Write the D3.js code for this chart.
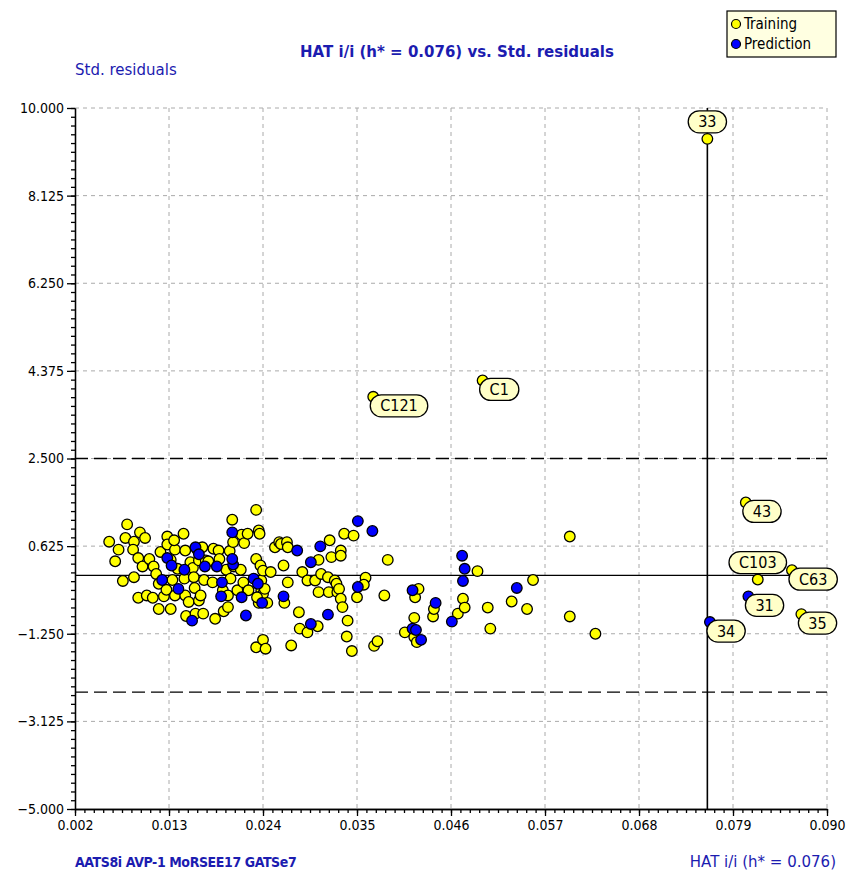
<!DOCTYPE html>
<html><head><meta charset="utf-8">
<script src="https://cdn.jsdelivr.net/npm/d3@7"></script>
<style>
body{margin:0;background:#fff;}
svg{display:block;font-family:"DejaVu Sans Condensed","DejaVu Sans",sans-serif;}
</style></head><body>
<svg id="chart" width="848" height="876"></svg>
<script>
// ---------------- DATA ----------------
const trainH = [0.0060,0.0071,0.0067,0.0081,0.0079,0.0089,0.0088,0.0096,0.0102,0.0094,0.0099,0.0107,0.0076,0.0089,0.0094,0.0104,0.0112,0.0111,0.0118,0.0115,
0.0118,0.0120,0.0124,0.0127,0.0128,0.0128,0.0132,0.0134,0.0132,0.0137,0.0136,0.0137,0.0140,0.0147,0.0149,0.0148,0.0149,0.0150,0.0153,0.0155,
0.0158,0.0159,0.0160,0.0161,0.0163,0.0165,0.0165,0.0167,0.0170,0.0169,0.0171,0.0173,0.0176,0.0181,0.0182,0.0184,0.0188,0.0189,0.0193,0.0194,
0.0197,0.0199,0.0201,0.0199,0.0202,0.0204,0.0205,0.0206,0.0210,0.0214,0.0215,0.0217,0.0218,0.0222,0.0223,0.0232,0.0232,0.0235,0.0236,0.0237,
0.0238,0.0238,0.0240,0.0240,0.0242,0.0245,0.0249,0.0235,0.0233,0.0232,0.0240,0.0243,0.0254,0.0259,0.0261,0.0264,0.0265,0.0268,0.0269,0.0269,
0.0273,0.0282,0.0283,0.0286,0.0292,0.0292,0.0301,0.0304,0.0305,0.0305,0.0308,0.0316,0.0317,0.0318,0.0320,0.0324,0.0326,0.0327,0.0329,0.0331,
0.0331,0.0331,0.0333,0.0335,0.0338,0.0339,0.0344,0.0346,0.0350,
0.0360,0.0358,0.0382,0.0386,0.0417,0.0418,0.0422,0.0406,0.0417,0.0420,0.0439,0.0440,0.0468,0.0474,0.0476,0.0491,0.0503,0.0506,0.0531,0.0549,
0.0556,0.0599,0.0599,0.0629,0.0370,0.0374];
const trainR = [0.72,0.55,0.30,1.09,0.80,0.72,0.55,0.92,0.80,0.37,0.19,0.35,-0.12,-0.04,-0.48,-0.43,0.19,-0.48,-0.72,0.03,
-0.18,0.50,-0.45,-0.31,0.83,0.66,-0.72,-0.10,0.33,0.55,0.75,-0.43,0.14,0.89,0.53,-0.07,-0.43,-0.87,-0.57,0.28,
0.16,-0.04,-0.27,-0.82,0.55,0.32,-0.54,-0.43,-0.82,0.60,-0.10,0.32,0.30,-0.15,0.57,-0.93,0.53,0.35,-0.32,-0.77,
0.12,-0.43,0.52,-0.68,-0.07,1.19,0.71,0.19,-0.32,0.12,0.87,-0.15,0.69,0.89,-0.32,1.40,0.35,0.96,0.89,0.21,
-0.11,-0.32,-0.40,0.10,-0.29,-0.59,0.07,-0.59,-0.47,-1.54,-1.38,-1.57,0.60,0.71,0.67,0.21,-0.59,0.71,0.60,-0.15,
-1.50,-0.79,-1.14,0.07,-1.22,-0.11,-0.11,-1.09,0.33,-0.36,0.03,-0.04,-0.36,0.75,0.39,-0.11,-0.18,-0.36,-0.29,-0.50,
0.53,0.42,-0.68,0.89,-1.31,-0.97,-1.62,0.85,-0.47,
-0.05,-0.20,-0.43,0.33,-0.91,-0.47,-0.29,-1.22,-1.32,-1.43,-0.88,-0.72,-0.82,-0.50,-0.69,0.09,-0.69,-1.14,-0.56,-0.72,
-0.10,0.83,-0.88,-1.25,-1.51,-1.41];
const predH = [0.0128,0.0122,0.0133,0.0141,0.0148,0.0157,0.0161,0.0165,0.0172,0.0186,0.0191,0.0192,0.0204,0.0205,0.0204,0.0215,0.0220,0.0229,0.0234,0.0239,
0.0264,0.0280,0.0296,0.0307,0.0296,0.0316,0.0351,0.0351,0.0368,0.0415,0.0415,0.0419,0.0425,0.0442,0.0461,0.0473,0.0476,0.0474,0.0537];
const predR = [0.37,-0.10,0.21,-0.29,0.12,-0.97,0.60,0.45,0.19,0.19,-0.45,-0.15,0.92,0.23,0.35,-0.47,-0.86,-0.07,-0.18,-0.59,
-0.45,0.53,0.28,0.62,-1.04,-0.84,1.16,-0.25,0.95,-0.32,-1.14,-1.17,-1.38,-0.59,-0.99,0.42,0.14,-0.12,-0.27];
const labelIds = ["33","C1","C121","43","C103","C63","31","35","34"];
const labelH = [0.0760,0.0497,0.0369,0.0805,0.0819,0.0859,0.0808,0.0870,0.0763];
const labelR = [9.34,4.17,3.82,1.56,-0.09,0.11,-0.45,-0.83,-1.00];
const labelSet = ["Training","Training","Training","Training","Training","Training","Prediction","Training","Prediction"];
const xTicks = [0.002,0.013,0.024,0.035,0.046,0.057,0.068,0.079,0.090];
const yTicks = [10,8.125,6.25,4.375,2.5,0.625,-1.25,-3.125,-5];
const hStar = 0.076;
const resLimit = 2.5;
const titleText = "HAT i/i (h* = 0.076) vs. Std. residuals";
const yAxisTitle = "Std. residuals";
const xAxisTitle = "HAT i/i (h* = 0.076)";
const descriptorText = "AATS8i AVP-1 MoRSEE17 GATSe7";
const seriesNames = ["Training","Prediction"];

// ---------------- STYLE / LAYOUT ----------------
const L = 75, R = 827, T = 108, B = 809;
const colors = {Training:"#ffff00", Prediction:"#0000ff"};
const textBlue = "#1c1cb0";
const dotR = 5.3;
const wideFont = "'DejaVu Sans',sans-serif";
const condFont = "'DejaVu Sans Condensed','DejaVu Sans',sans-serif";

const svg = d3.select("#chart");
const x = d3.scaleLinear().domain([0.002,0.090]).range([L,R]);
const y = d3.scaleLinear().domain([-5,10]).range([B,T]);

// grid
const grid = svg.append("g");
grid.selectAll("line.gx").data(xTicks.slice(1)).join("line")
  .attr("x1",d=>x(d)).attr("x2",d=>x(d)).attr("y1",T).attr("y2",B)
  .attr("stroke","#aaaaaa").attr("stroke-dasharray","4,4").attr("stroke-width",1);
grid.selectAll("line.gy").data(yTicks.slice(0,-1)).join("line")
  .attr("x1",L).attr("x2",R).attr("y1",d=>y(d)).attr("y2",d=>y(d))
  .attr("stroke","#aaaaaa").attr("stroke-dasharray","4,4").attr("stroke-width",1);

// axes
const fmt = d3.format(".3f");
const xMinor = d3.range(0,81).map(i=>0.002+i*0.0011);
const yMinor = d3.range(0,81).map(i=>-5+i*0.1875);
const gxm = svg.append("g").attr("transform",`translate(0,${B})`)
  .call(d3.axisBottom(x).tickValues(xMinor).tickSize(4).tickFormat("").tickSizeOuter(0));
const gx = svg.append("g").attr("transform",`translate(0,${B})`)
  .call(d3.axisBottom(x).tickValues(xTicks).tickSize(7).tickFormat(fmt).tickSizeOuter(0).tickPadding(4));
const gym = svg.append("g").attr("transform",`translate(${L},0)`)
  .call(d3.axisLeft(y).tickValues(yMinor).tickSize(4).tickFormat("").tickSizeOuter(0));
const gy = svg.append("g").attr("transform",`translate(${L},0)`)
  .call(d3.axisLeft(y).tickValues(yTicks).tickSize(8).tickFormat(fmt).tickSizeOuter(0).tickPadding(3));
[gx,gy,gxm,gym].forEach(g=>{
  g.selectAll("path,line").attr("stroke","#000").attr("stroke-width",1.3);
  g.selectAll("text").attr("fill","#000").style("font-size","14px").style("font-family",condFont);
});

// reference lines
svg.append("line").attr("x1",L).attr("x2",R).attr("y1",y(0)).attr("y2",y(0))
  .attr("stroke","#000").attr("stroke-width",1.3);
[resLimit,-resLimit].forEach(v=>{
  svg.append("line").attr("x1",L).attr("x2",R).attr("y1",y(v)).attr("y2",y(v))
    .attr("stroke","#000").attr("stroke-width",1.4).attr("stroke-dasharray","13,6");
});
svg.append("line").attr("x1",x(hStar)).attr("x2",x(hStar)).attr("y1",T).attr("y2",B)
  .attr("stroke","#000").attr("stroke-width",1.6);

// points
const trainData = trainH.map((h,i)=>({h, r:trainR[i], s:"Training"}));
const predData = predH.map((h,i)=>({h, r:predR[i], s:"Prediction"}));
const labData = labelIds.map((id,i)=>({id, h:labelH[i], r:labelR[i], s:labelSet[i]}));
svg.append("g").selectAll("circle").data(trainData.concat(predData).concat(labData)).join("circle")
  .attr("cx",d=>x(d.h)).attr("cy",d=>y(d.r)).attr("r",dotR)
  .attr("fill",d=>colors[d.s]).attr("stroke","#000").attr("stroke-width",1.3);

// point labels (pill call-outs)
const above = new Set(["33","C103"]);
const lg = svg.append("g");
labData.forEach(d=>{
  const px = x(d.h), py = y(d.r);
  const grp = lg.append("g");
  const rect = grp.append("rect");
  const t = grp.append("text").text(d.id).style("font-size","16px").style("font-family",condFont).attr("fill","#000");
  const tw = t.node().getComputedTextLength();
  const bw = tw + 20, bh = 22;
  let bx, by;
  if (above.has(d.id)) { bx = px - bw/2; by = py - 6 - bh; }
  else { bx = px - 3; by = py - 2; }
  rect.attr("x",bx).attr("y",by).attr("width",bw).attr("height",bh)
    .attr("rx",bh/2).attr("ry",bh/2).attr("fill","#ffffc8").attr("stroke","#000").attr("stroke-width",1.3);
  t.attr("x",bx+bw/2).attr("y",by+bh/2+5.5).attr("text-anchor","middle");
});

// titles
svg.append("text").attr("x",457).attr("y",57).attr("text-anchor","middle").attr("fill",textBlue)
  .style("font-family",wideFont).style("font-size","15px").style("font-weight","bold").text(titleText);
svg.append("text").attr("x",75).attr("y",75).attr("fill",textBlue)
  .style("font-family",wideFont).style("font-size","15px").text(yAxisTitle);
svg.append("text").attr("x",75).attr("y",867).attr("fill",textBlue).style("font-size","14px")
  .style("letter-spacing","-0.4px")
  .style("font-family",condFont).style("font-weight","bold").text(descriptorText);
svg.append("text").attr("x",836).attr("y",867).attr("text-anchor","end").attr("fill",textBlue)
  .style("font-family",wideFont).style("font-size","15px").text(xAxisTitle);

// legend
const leg = svg.append("g");
leg.append("rect").attr("x",727).attr("y",11).attr("width",109).attr("height",46)
  .attr("fill","#ffffe1").attr("stroke","#000").attr("stroke-width",1.2);
seriesNames.forEach((s,i)=>{
  leg.append("circle").attr("cx",736).attr("cy",24+i*20).attr("r",4.5)
    .attr("fill",colors[s]).attr("stroke","#000").attr("stroke-width",1.2);
  leg.append("text").attr("x",744).attr("y",29+i*20).attr("fill","#000")
    .style("font-family",condFont).style("font-size","15px").text(s);
});
</script>
</body></html>
